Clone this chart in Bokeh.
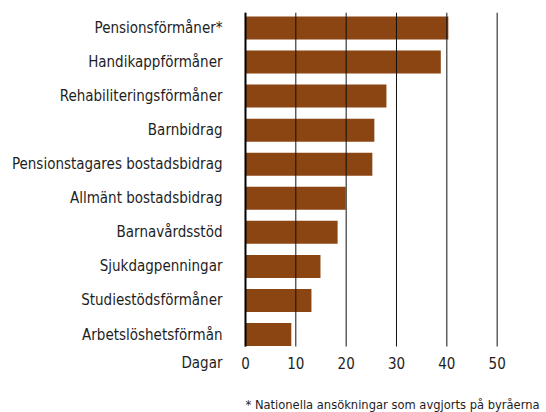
from bokeh.plotting import figure
from bokeh.models import Range1d, FixedTicker, Label
from bokeh.core.properties import value
from bokeh.embed import file_html
from bokeh.resources import INLINE

categories = ["Pensionsförmåner*", "Handikappförmåner", "Rehabiliteringsförmåner",
              "Barnbidrag", "Pensionstagares bostadsbidrag", "Allmänt bostadsbidrag",
              "Barnavårdsstöd", "Sjukdagpenningar", "Studiestödsförmåner",
              "Arbetslöshetsförmån"]
values = [40.3, 38.8, 28.0, 25.6, 25.2, 19.9, 18.3, 14.9, 13.1, 9.1]
x_ticks = [0, 10, 20, 30, 40, 50]
x_tick_labels = ["0", "10", "20", "30", "40", "50"]
axis_title = "Dagar"
footnote = "* Nationella ansökningar som avgjorts på byråerna"

FONT = "DejaVu Sans Condensed"
FS = "15px"
FS_FOOT = "12.8px"
TXT = "#1e1e1e"
BAR = "#8B4513"

n = len(categories)
ypos = [n - 1 - i for i in range(n)]

# layout rows (in category units, one row = one bar slot)
Y_TOP = n - 1 + 0.455
Y_BARS_BOTTOM = -0.351
Y_TICKROW = -0.821
Y_FOOT = -2.06
Y_BOTTOM = -2.289

p = figure(width=546, height=412, output_backend="svg", toolbar_location=None,
           x_range=Range1d(-1.19, 59.8), y_range=Range1d(Y_BOTTOM, Y_TOP),
           min_border_left=239, min_border_right=0, min_border_top=12,
           min_border_bottom=0)
p.outline_line_color = None
p.xaxis.visible = False
p.xgrid.grid_line_color = None
p.ygrid.grid_line_color = None

p.hbar(y=ypos, right=values, left=0, height=0.675, color=BAR, line_color=None)

# vertical grid lines over the bars
p.segment(x0=x_ticks, x1=x_ticks, y0=[Y_BARS_BOTTOM] * len(x_ticks),
          y1=[Y_TOP] * len(x_ticks), line_color="#111111", line_width=1)
# axis line at zero
p.segment(x0=[0], x1=[0], y0=[Y_BARS_BOTTOM], y1=[Y_TOP], line_color="#000000",
          line_width=2)

# x tick labels
p.text(x=x_ticks, y=[Y_TICKROW] * len(x_ticks), text=x_tick_labels,
       text_font=value(FONT), text_font_size=value(FS), text_color=TXT,
       text_align="center", text_baseline="middle")

ya = p.yaxis[0]
ya.ticker = FixedTicker(ticks=ypos + [Y_TICKROW])
overrides = {yp: c for yp, c in zip(ypos, categories)}
overrides[Y_TICKROW] = axis_title
ya.major_label_overrides = overrides
ya.axis_line_color = None
ya.major_tick_line_color = None
ya.minor_tick_line_color = None
ya.major_tick_out = 0
ya.major_label_text_font = FONT
ya.major_label_text_font_size = FS
ya.major_label_text_color = TXT
ya.major_label_standoff = 17

p.add_layout(Label(x=0, y=Y_FOOT, text=footnote, text_font=FONT, text_font_size=FS_FOOT,
                   text_color=TXT, text_align="left", text_baseline="alphabetic"))

open("out.html", "w").write(file_html(p, INLINE))
